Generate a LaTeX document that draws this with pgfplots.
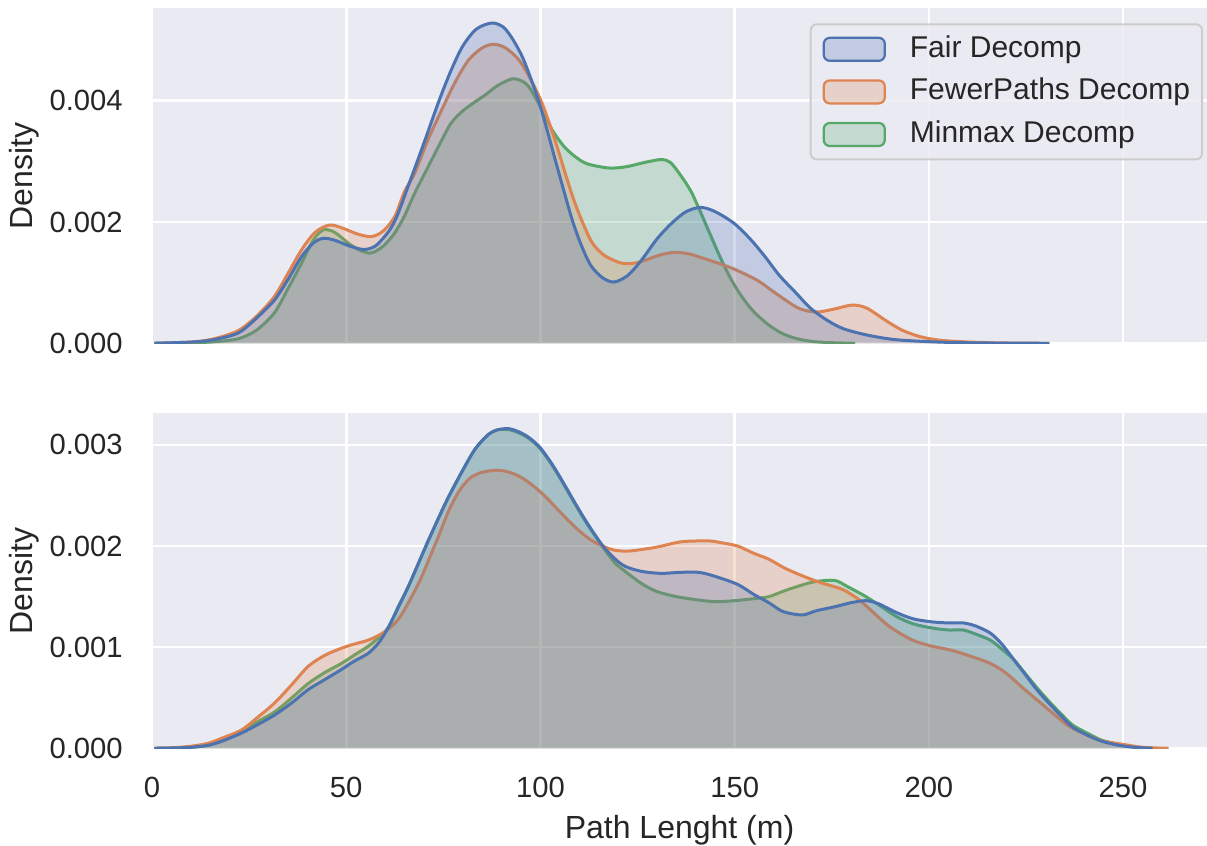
\documentclass[border=0pt]{standalone}
\usepackage{fontspec}
\setmainfont{Liberation Sans}
\usepackage{pgfplots}
\usepackage{pgfplotstable}
\pgfplotsset{compat=1.18}

\definecolor{bgcol}{HTML}{EAEAF2}
\definecolor{cfair}{HTML}{4C72B0}
\definecolor{cfewer}{HTML}{DD8452}
\definecolor{cminmax}{HTML}{55A868}
\definecolor{txt}{HTML}{262626}
\definecolor{legedge}{HTML}{CCCCCC}

% upper panel densities
\pgfplotstableread{
x y
0.6 0
10 0.00001
15 0.00002
20 0.00005
23 0.00009
27 0.00022
31.5 0.0005
35 0.0009
38.5 0.00132
41.5 0.0017
44.1 0.00187
47 0.00183
51 0.00163
54 0.00152
56.5 0.00149
59.5 0.0016
62.5 0.00182
65 0.0021
67.6 0.00247
71 0.0029
74.6 0.00335
77 0.00363
79.8 0.00382
82.7 0.00396
85.7 0.00409
89 0.00425
92.7 0.00436
95 0.00433
97 0.00423
100 0.0039
103 0.00352
106 0.00325
108.9 0.00308
112 0.00296
117.6 0.00289
122 0.00291
126 0.00297
129 0.00301
131.3 0.00303
133.5 0.00298
136.3 0.00275
138.8 0.0025
141.3 0.00215
143.8 0.00178
146.2 0.00143
148.7 0.0011
151.2 0.00083
154.5 0.00055
158.2 0.00033
162 0.00017
165.8 0.00008
170 0.00003
175 0.00001
181 0
}\topMinmax

\pgfplotstableread{
x y
0.6 0
10 0.00002
15 0.00006
20 0.00015
23 0.00024
27 0.00045
31.5 0.00077
35 0.00115
38.5 0.00154
42 0.00183
45.7 0.00195
49 0.0019
53 0.0018
56.5 0.00176
59.5 0.00185
62.5 0.00209
65 0.0025
67.6 0.0028
71 0.00335
74.6 0.00385
78 0.0043
81.5 0.00467
85 0.00487
88 0.00493
91 0.00487
94.5 0.00467
97.5 0.00435
100.4 0.00396
103.5 0.0034
106.3 0.00282
108.5 0.00238
110.8 0.002
113.3 0.00166
116 0.00147
118.5 0.00138
121 0.00132
124 0.00132
127 0.00137
131 0.00146
134.8 0.0015
138.5 0.00147
142 0.0014
145.8 0.00132
150 0.00122
155.8 0.00104
160 0.00085
165.8 0.0006
169 0.00053
172 0.00052
176 0.00057
180.3 0.00063
184 0.00058
188.8 0.00038
193 0.00022
197.7 0.00011
203 0.00005
210.7 0.00002
220 0.000005
231 0
}\topFewer

\pgfplotstableread{
x y
0.6 0
10 0.00002
15 0.00005
20 0.00012
23 0.0002
27 0.00042
31.5 0.00071
35 0.00105
38.5 0.00143
41.5 0.00165
44 0.00173
47 0.0017
51 0.0016
54 0.00155
56 0.00156
58 0.00163
61 0.00185
63.1 0.0021
66 0.0026
70 0.0033
73.9 0.004
77 0.0045
80 0.0049
83.5 0.00518
87.5 0.00528
90.5 0.00521
93 0.005
95.5 0.0047
98 0.00428
100 0.0039
102 0.00345
104 0.00298
106 0.00252
108.2 0.00203
110.5 0.00162
113 0.00128
116 0.00108
119 0.00101
122.5 0.00112
126 0.00137
130 0.00172
133.8 0.00198
137.5 0.00217
141.3 0.00224
145 0.00217
149.8 0.00198
154 0.00172
157.8 0.00143
161.5 0.00112
165.8 0.00083
169.5 0.00058
173.8 0.00038
178 0.00024
183.8 0.00014
190 0.00007
195.7 0.00004
205 0.000015
215 0.000005
231 0
}\topFair

% lower panel densities
\pgfplotstableread{
x y
0.6 0
5 0.000003
10 0.00001
14.5 0.00003
18 0.00008
23 0.00017
27 0.00026
31.6 0.00036
36 0.0005
40.2 0.00064
44.5 0.00075
48.8 0.00084
52 0.00092
55.7 0.00101
58.5 0.0011
60.9 0.0012
63.5 0.00141
66 0.0016
68.6 0.00183
71.2 0.00206
73.8 0.00228
76.4 0.00249
80 0.00275
83.2 0.00296
86.5 0.0031
89 0.00315
92 0.00315
95 0.00311
97.5 0.00305
100 0.00296
103 0.0028
106 0.00261
109 0.00241
112 0.00222
115.9 0.002
119 0.00184
121.8 0.00175
126 0.00163
130 0.00155
135 0.0015
140 0.00147
145 0.00145
150 0.00146
155 0.00148
158.8 0.0015
163 0.00156
167.8 0.00162
171 0.00165
175.8 0.00166
179 0.0016
183.8 0.0015
187.8 0.0014
191.8 0.0013
196 0.00123
200.8 0.00119
205 0.00117
208.8 0.00117
212 0.00113
215.8 0.00107
218.8 0.00098
221.8 0.00088
224.8 0.00074
227.8 0.0006
230.8 0.00047
233.8 0.00035
237 0.00023
240.8 0.00015
244.5 0.00008
248.8 0.00004
253 0.00001
258 0
}\botMinmax

\pgfplotstableread{
x y
0.6 0
5 0.000005
10 0.00002
14.5 0.00005
18 0.0001
23 0.00018
27 0.0003
31.6 0.00045
36 0.00063
40.2 0.00081
44.5 0.00092
48.8 0.00099
52 0.00103
55.7 0.00107
58.5 0.00112
60.9 0.00118
63.5 0.00128
66 0.00144
69 0.00166
71.2 0.00186
74 0.00212
76.4 0.00235
79 0.00254
81.8 0.00267
85 0.00273
89 0.00275
92 0.00273
95 0.00268
98 0.0026
101 0.0025
104 0.00238
107 0.00226
110 0.00215
113 0.00206
116 0.002
119 0.00196
122 0.00195
125 0.00196
130 0.00199
135.8 0.00204
140 0.00205
143.8 0.00205
147 0.00203
150.8 0.002
154.8 0.00193
158.8 0.00187
163 0.00178
167.8 0.0017
172 0.00164
177.8 0.00157
182 0.00147
185.8 0.00134
190 0.0012
195.8 0.00107
200.8 0.00101
205.8 0.00097
210 0.00092
215.8 0.00084
220 0.00074
223.8 0.00061
227.8 0.00048
231.8 0.00035
236 0.00022
240.8 0.00013
245 0.00007
249.8 0.00004
255 0.00001
261.7 0
}\botFewer

\pgfplotstableread{
x y
0.6 0
5 0.000003
10 0.00001
14.5 0.00003
18 0.00007
23 0.00015
27 0.00023
31.6 0.00033
36 0.00045
40.2 0.00058
44.5 0.00068
48.8 0.00078
52 0.00086
55.7 0.00094
58.5 0.00105
60.9 0.0012
63.5 0.0014
66 0.0016
68.6 0.00183
71.2 0.00206
73.8 0.00228
76.4 0.00249
80 0.00275
83.2 0.00296
86.5 0.0031
89 0.00315
92 0.00316
95 0.00312
97.5 0.00306
100 0.00297
103 0.00281
106 0.00262
109 0.00242
112 0.00223
115.9 0.00201
119 0.00188
121.8 0.0018
126 0.00175
131 0.00173
136 0.00174
140.8 0.00174
145 0.0017
150.8 0.00162
155 0.00152
158.8 0.00144
162 0.00136
164.8 0.00133
167.8 0.00132
171 0.00136
175.8 0.0014
180 0.00144
183.8 0.00146
187 0.00143
191.8 0.00134
196 0.00128
200.8 0.00125
205 0.00124
208.8 0.00124
212 0.00121
215.8 0.00114
218.8 0.00103
221.8 0.00088
224.8 0.00073
227.8 0.00058
230.8 0.00045
233.8 0.00033
237 0.00021
240.8 0.00013
244.5 0.00007
248.8 0.00003
253 0.00001
257.6 0
}\botFair

\pgfplotsset{
  kde/.style={
    scale only axis, width=527.5pt, height=167.5pt,
    xmin=0, xmax=271.6, ymin=0,
    axis background/.style={fill=bgcol},
    axis line style={draw=none},
    major tick length=0pt,
    grid=major, major grid style={white, line width=1.3pt},
    xtick={0,50,100,150,200,250},
    scaled y ticks=false,
    tick label style={font=\fontsize{14.6}{17}\selectfont, text=txt},
    yticklabel style={anchor=east, inner sep=0pt, xshift=-14.5pt},
    xticklabel style={anchor=north, inner sep=0pt, yshift=-14pt},
    every axis y label/.style={at={([xshift=-71.5pt]axis description cs:0,0.5)},
      rotate=90, anchor=north, inner sep=0pt,
      font=\fontsize{16}{19}\selectfont, text=txt},
    every axis x label/.style={at={([yshift=-33.3pt]axis description cs:0.5,0)},
      anchor=north, inner sep=0pt,
      font=\fontsize{16}{19}\selectfont, text=txt},
    ylabel={Density},
  },
  area/.style={smooth, draw=none, fill=#1, fill opacity=0.25,
    legend image code/.code={\draw[##1, draw=#1, draw opacity=1, line width=1.1pt]
      (0pt,-5.75pt) rectangle (30.5pt,5.75pt);}},
  edge/.style={smooth, draw=#1, line width=1.5pt, forget plot},
}

\begin{document}
\begin{tikzpicture}
\useasboundingbox (0,0) rectangle (603.5pt,423pt);

% upper panel
\begin{axis}[kde, at={(76pt,251.35pt)}, anchor=south west,
  ymax=0.005523, ytick={0,0.002,0.004}, yticklabels={0.000,0.002,0.004},
  xticklabels={},
  reverse legend,
  legend style={at={(1,1)}, anchor=north east, xshift=-2pt, yshift=-7.5pt,
    draw=legedge, line width=1pt, fill=bgcol, fill opacity=0.8, text opacity=1,
    rounded corners=3pt, font=\fontsize{15}{18}\selectfont, text=txt,
    inner xsep=6pt, inner ysep=5.5pt, row sep=7.3pt,
    nodes={inner sep=0pt, text height=11pt, text depth=3pt},
    /tikz/every odd column/.append style={column sep=12pt}},
  legend cell align=left]
\addplot[area=cminmax] table {\topMinmax} \closedcycle;
\addlegendentry{Minmax Decomp}
\addplot[edge=cminmax] table {\topMinmax};
\addplot[area=cfewer] table {\topFewer} \closedcycle;
\addlegendentry{FewerPaths Decomp}
\addplot[edge=cfewer] table {\topFewer};
\addplot[area=cfair] table {\topFair} \closedcycle;
\addlegendentry{Fair Decomp}
\addplot[edge=cfair] table {\topFair};
\end{axis}

% lower panel
\begin{axis}[kde, at={(76pt,48.85pt)}, anchor=south west,
  ymax=0.003313, ytick={0,0.001,0.002,0.003},
  yticklabels={0.000,0.001,0.002,0.003},
  xticklabels={0,50,100,150,200,250},
  xlabel={Path Lenght (m)}]
\addplot[area=cminmax] table {\botMinmax} \closedcycle;
\addplot[edge=cminmax] table {\botMinmax};
\addplot[area=cfewer] table {\botFewer} \closedcycle;
\addplot[edge=cfewer] table {\botFewer};
\addplot[area=cfair] table {\botFair} \closedcycle;
\addplot[edge=cfair] table {\botFair};
\end{axis}
\end{tikzpicture}
\end{document}
